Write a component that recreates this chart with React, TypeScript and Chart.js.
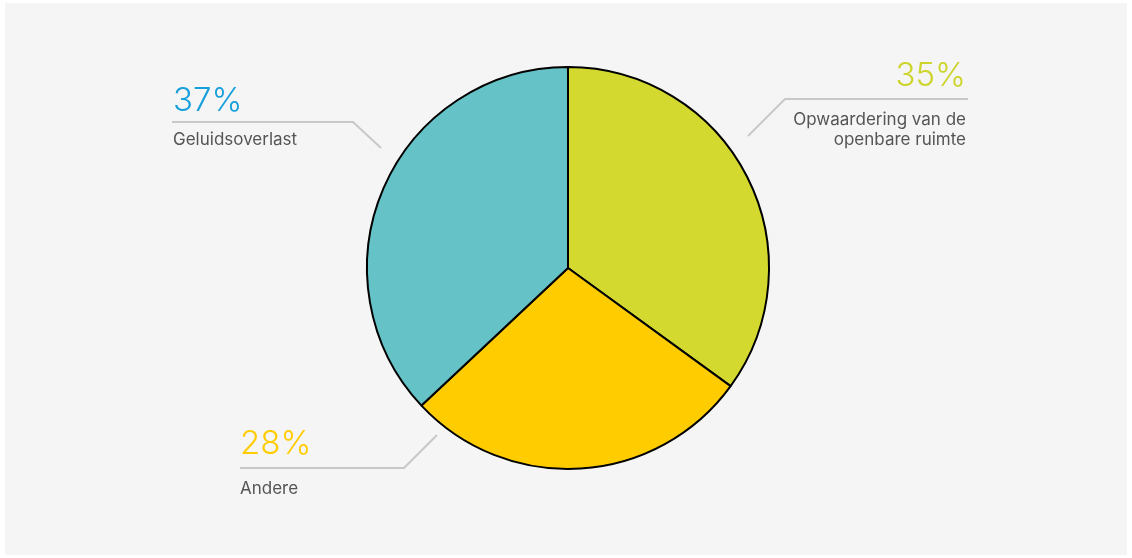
import React, { useEffect, useRef } from "react";
import { Chart, registerables } from "chart.js";

Chart.register(...registerables);

const categories = ["Opwaardering van de openbare ruimte", "Andere", "Geluidsoverlast"];
const labelLines = [["Opwaardering van de", "openbare ruimte"], ["Andere"], ["Geluidsoverlast"]];
const values = [35, 28, 37];
const sliceColors = ["#d3d92e", "#ffcc00", "#65c2c6"];
const percentColors = ["#cdd42a", "#ffcc00", "#179fdc"];

// callout geometry relative to pie centre: tip, elbow, end of line, text anchor
const callouts = [
  { tip: [180, -132], elbow: [217, -169], end: [400, -169], align: "right", tx: 398, py: -182, ly: -143, lh: 20 },
  { tip: [-131, 167], elbow: [-164, 200], end: [-328, 200], align: "left", tx: -328, py: 186, ly: 226, lh: 20 },
  { tip: [-187, -120], elbow: [-215, -146], end: [-396, -146], align: "left", tx: -395, py: -157, ly: -123, lh: 20 },
];

const calloutPlugin = {
  id: "callouts",
  afterDatasetsDraw(chart: any) {
    const meta = chart.getDatasetMeta(0);
    const arc = meta.data[0];
    if (!arc) return;
    const cx = arc.x;
    const cy = arc.y;
    const ctx = chart.ctx;
    ctx.save();
    callouts.forEach((c, i) => {
      ctx.beginPath();
      ctx.strokeStyle = "#c8c8c8";
      ctx.lineWidth = 2;
      ctx.moveTo(cx + c.tip[0], cy + c.tip[1]);
      ctx.lineTo(cx + c.elbow[0], cy + c.elbow[1]);
      ctx.lineTo(cx + c.end[0], cy + c.end[1]);
      ctx.stroke();
      ctx.textAlign = c.align;
      ctx.textBaseline = "alphabetic";
      ctx.fillStyle = percentColors[i];
      ctx.font = "300 33px Inter";
      ctx.fillText(values[i] + "%", cx + c.tx, cy + c.py);
      ctx.fillStyle = "#555555";
      ctx.font = "400 17px Inter";
      labelLines[i].forEach((t, j) => {
        ctx.fillText(t, cx + c.tx, cy + c.ly + j * c.lh);
      });
    });
    ctx.restore();
  },
};

export default function App() {
  const ref = useRef<HTMLCanvasElement>(null);
  useEffect(() => {
    document.body.style.margin = "0";
    const chart = new Chart(ref.current!, {
      type: "pie",
      data: {
        labels: categories,
        datasets: [
          {
            data: values,
            backgroundColor: sliceColors,
            borderColor: "#000000",
            borderWidth: 2,
          },
        ],
      },
      options: {
        animation: false,
        responsive: false,
        radius: 201,
        layout: { padding: { top: 66, bottom: 88, left: 4, right: 0 } },
        plugins: { legend: { display: false }, tooltip: { enabled: false } },
      },
      plugins: [calloutPlugin],
    });
    return () => chart.destroy();
  }, []);
  return (
    <div style={{ position: "relative", width: 1132, height: 558, background: "#ffffff" }}>
      <div style={{ position: "absolute", left: 5, top: 3, width: 1122, height: 552, background: "#f5f5f5" }} />
      <canvas ref={ref} width={1132} height={558} style={{ position: "absolute", left: 0, top: 0 }} />
    </div>
  );
}
